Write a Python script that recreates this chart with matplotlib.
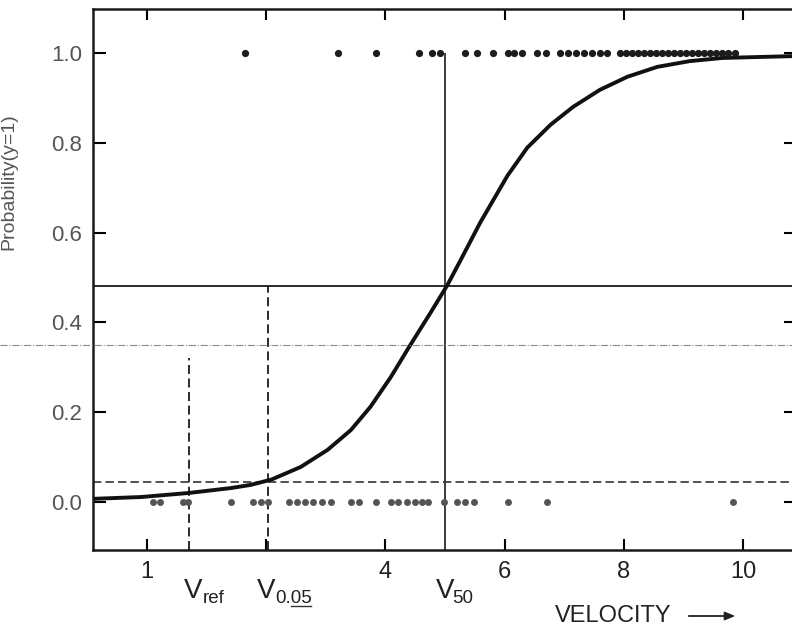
import matplotlib
matplotlib.use('Agg')
import matplotlib.pyplot as plt
import matplotlib.transforms as mtransforms
from matplotlib.lines import Line2D
from matplotlib.patches import FancyArrowPatch

plt.rcParams['font.family'] = ['Liberation Sans', 'DejaVu Sans']

# ---------------- data ----------------
# observations with y = 1 (velocity)
top_v = [1.64, 3.20, 3.85, 4.56, 4.79, 4.92, 5.34, 5.54, 5.80, 6.05, 6.16, 6.30,
         6.55, 6.70, 6.93, 7.07, 7.20, 7.34, 7.47, 7.60, 7.72, 7.94, 8.04, 8.14,
         8.24, 8.34, 8.44, 8.54, 8.64, 8.74, 8.84, 8.94, 9.05, 9.15, 9.25, 9.35,
         9.45, 9.55, 9.65, 9.75, 9.87]
top_p = [1.0] * len(top_v)

# observations with y = 0
bot_v = [0.10, 0.22, 0.60, 0.69, 1.41, 1.78, 1.91, 2.03, 2.38, 2.51, 2.65, 2.78,
         2.93, 3.08, 3.42, 3.55, 3.84, 4.09, 4.22, 4.36, 4.49, 4.61, 4.72, 4.99,
         5.21, 5.34, 5.48, 6.05, 6.72, 9.83]
bot_p = [0.0] * len(bot_v)

# fitted probability curve
curve_v = [-0.89, -0.10, 0.70, 1.41, 1.74, 2.09, 2.58, 3.03, 3.42, 3.75, 4.09,
           4.42, 4.76, 5.04, 5.26, 5.59, 6.05, 6.38, 6.77, 7.15, 7.60, 8.06,
           8.56, 9.11, 9.66, 10.82]
curve_p = [0.007, 0.011, 0.020, 0.031, 0.038, 0.050, 0.078, 0.116, 0.160, 0.212,
           0.278, 0.350, 0.422, 0.483, 0.538, 0.622, 0.727, 0.789, 0.840, 0.880,
           0.918, 0.947, 0.969, 0.982, 0.989, 0.993]

# reference velocities and levels
v_ref, v_005, v_50 = 0.70, 2.03, 5.0
p_ref_top = 0.32
p_50 = 0.48
p_005 = 0.045

x_tick_pos = [0, 2, 4, 6, 8, 10]
x_tick_labels = ['1', '', '4', '6', '8', '10']
y_tick_pos = [0.0, 0.2, 0.4, 0.6, 0.8, 1.0]
y_tick_labels = ['0.0', '0.2', '0.4', '0.6', '0.8', '1.0']

# ---------------- figure ----------------
W, H = 792, 631
fig = plt.figure(figsize=(W / 100, H / 100), dpi=100)
ax = fig.add_axes([93 / W, 1 - 550 / H, (796 - 93) / W, (550 - 9) / H])
ax.set_xlim(-0.906, 10.89)
ax.set_ylim(-0.107, 1.098)

ink = '#1a1a1a'
ax.plot(curve_v, curve_p, color='#111111', lw=2.8, solid_capstyle='round',
        solid_joinstyle='round', zorder=4)
ax.plot(top_v, top_p, 'o', color='#1c1c1c', ms=5.2, mew=0, zorder=5)
ax.plot(bot_v, bot_p, 'o', color='#555555', ms=5.0, mew=0, zorder=5)

ylo = ax.get_ylim()[0]
dash = (0, (5, 2.5))
ax.vlines(v_ref, ylo, p_ref_top, colors=ink, lw=1.3, linestyles=[dash])
ax.vlines(v_005, ylo, p_50, colors=ink, lw=1.3, linestyles=[dash])
ax.vlines(v_50, ylo, 1.0, colors=ink, lw=1.2)
ax.axhline(p_50, color=ink, lw=1.3)
ax.axhline(p_005, color='#333333', lw=1.2, ls=dash)

# faint scan bleed-through line across the page
bt = mtransforms.blended_transform_factory(fig.transFigure, ax.transData)
fig.add_artist(Line2D([0, 1], [0.35, 0.35], transform=bt, color='#8a8a8a',
                      lw=0.8, ls='-.'))

for s in ax.spines.values():
    s.set_linewidth(1.8)
    s.set_color('#1a1a1a')

ax.set_xticks(x_tick_pos, x_tick_labels)
ax.set_yticks(y_tick_pos, y_tick_labels)
ax.tick_params(axis='x', direction='in', length=8, width=1.5, top=True,
               labelsize=17, pad=8, labelcolor='#222222')
ax.tick_params(axis='y', direction='in', length=9, width=1.5, right=True,
               labelsize=16, pad=8, labelcolor='#555555')

ax.set_ylabel('Probability(y=1)', fontsize=14, color='#555555')
ax.yaxis.set_label_coords(-0.107, 0.68)

# V labels below axis
xt = ax.get_xaxis_transform()
def vlabel(v, sub, dxv, dxs):
    ax.annotate('V', xy=(v, 0), xycoords=xt, xytext=(dxv, -48),
                textcoords='offset pixels', ha='center', va='baseline',
                fontsize=20, color='#222222', annotation_clip=False)
    ax.annotate(sub, xy=(v, 0), xycoords=xt, xytext=(dxs, -53),
                textcoords='offset pixels', ha='left', va='baseline',
                fontsize=13.5, color='#222222', annotation_clip=False)

vlabel(v_ref, 'ref', 4, 14)
vlabel(v_005, '0.05', -2, 7)
vlabel(v_50, '50', 0, 7)

# underline below "05"
off = mtransforms.offset_copy(xt, fig=fig, x=0, y=-56, units='dots')
ax.plot([v_005 + 23 / 59.6, v_005 + 43 / 59.6], [0, 0], transform=off,
        color='#333333', lw=1.0, clip_on=False)

fig.text(555 / W, 1 - 622 / H, 'VELOCITY', fontsize=17, color='#222222',
         ha='left', va='baseline')
fig.add_artist(FancyArrowPatch(
    (686 / W, 1 - 616 / H), (738 / W, 1 - 616 / H), transform=fig.transFigure,
    arrowstyle='-|>,head_length=6,head_width=2.5', color='#222222', lw=1.3))

fig.savefig('out.png', dpi=100, facecolor='white')
